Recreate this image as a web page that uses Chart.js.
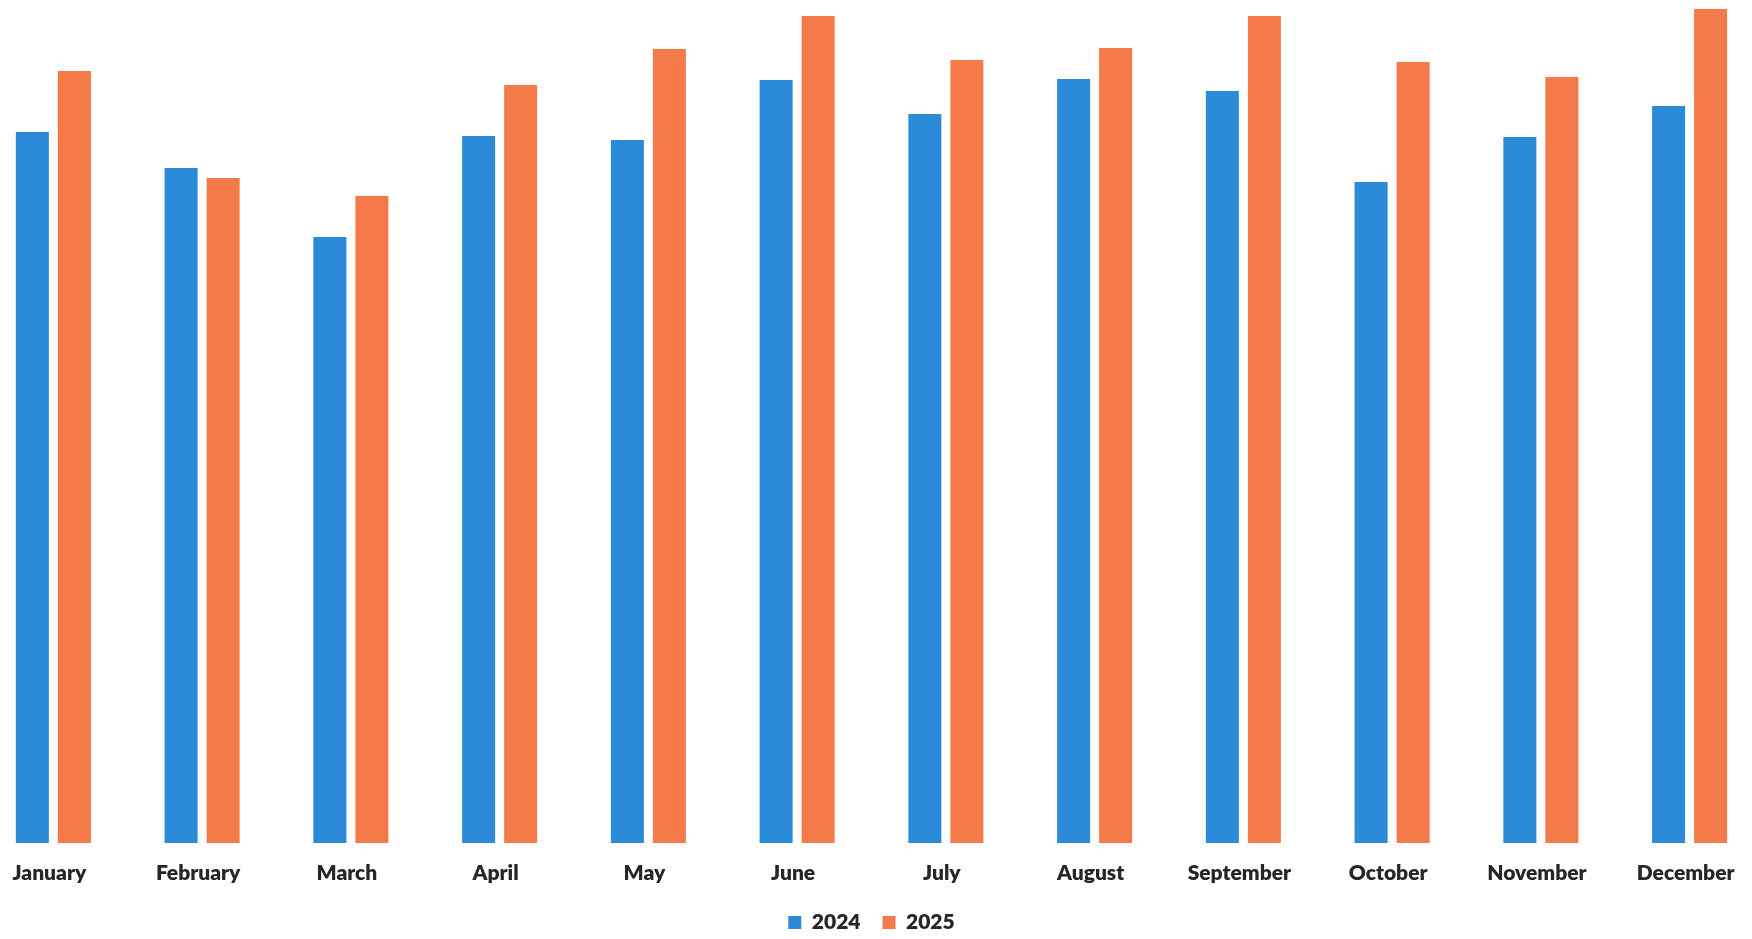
<!DOCTYPE html>
<html>
<head>
<meta charset="utf-8">
<script src="https://cdn.jsdelivr.net/npm/chart.js@4/dist/chart.umd.min.js"></script>
<style>
  html, body { margin: 0; padding: 0; background: #ffffff; overflow: hidden; width: 1752px; height: 939px; }
  #wrap { position: absolute; left: -21px; top: 0; width: 1785px; height: 943px; }
</style>
</head>
<body>
<div id="wrap"><canvas id="chart"></canvas></div>
<script>
// Monthly figures, two years side by side
const months = ['January', 'February', 'March', 'April', 'May', 'June',
                'July', 'August', 'September', 'October', 'November', 'December'];
const values2024 = [71.1, 67.5, 60.6, 70.7, 70.3, 76.3, 72.9, 76.4, 75.2, 66.1, 70.6, 73.7];
const values2025 = [77.2, 66.5, 64.7, 75.8, 79.4, 82.7, 78.3, 79.5, 82.7, 78.1, 76.6, 83.4];
const seriesNames = ['2024', '2025'];

const BLUE = '#2b8bd8';
const ORANGE = '#f57a4a';
const TEXT = '#262626';

new Chart(document.getElementById('chart'), {
  type: 'bar',
  data: {
    labels: months,
    datasets: [
      { label: seriesNames[0], data: values2024, backgroundColor: BLUE, borderWidth: 0 },
      { label: seriesNames[1], data: values2025, backgroundColor: ORANGE, borderWidth: 0 }
    ]
  },
  options: {
    responsive: true,
    maintainAspectRatio: false,
    animation: false,
    categoryPercentage: 0.565,
    barPercentage: 0.786,
    layout: { padding: 0 },
    plugins: {
      tooltip: { enabled: false },
      legend: {
        position: 'bottom',
        labels: {
          boxWidth: 13,
          boxHeight: 13,
          padding: 22,
          color: TEXT,
          font: { family: 'Lato', size: 21, weight: '800' }
        }
      }
    },
    scales: {
      x: {
        border: { display: false },
        grid: { display: false, drawTicks: false },
        // keep the month row compact so the legend sits close beneath it
        afterFit: (axis) => { axis.height = 47; },
        ticks: {
          color: TEXT,
          padding: 18,
          labelOffset: -4,
          maxRotation: 0,
          autoSkip: false,
          font: { family: 'Lato', size: 21, weight: '800' }
        }
      },
      y: {
        display: false,
        min: 0,
        max: 84.3
      }
    }
  }
});
</script>
</body>
</html>
